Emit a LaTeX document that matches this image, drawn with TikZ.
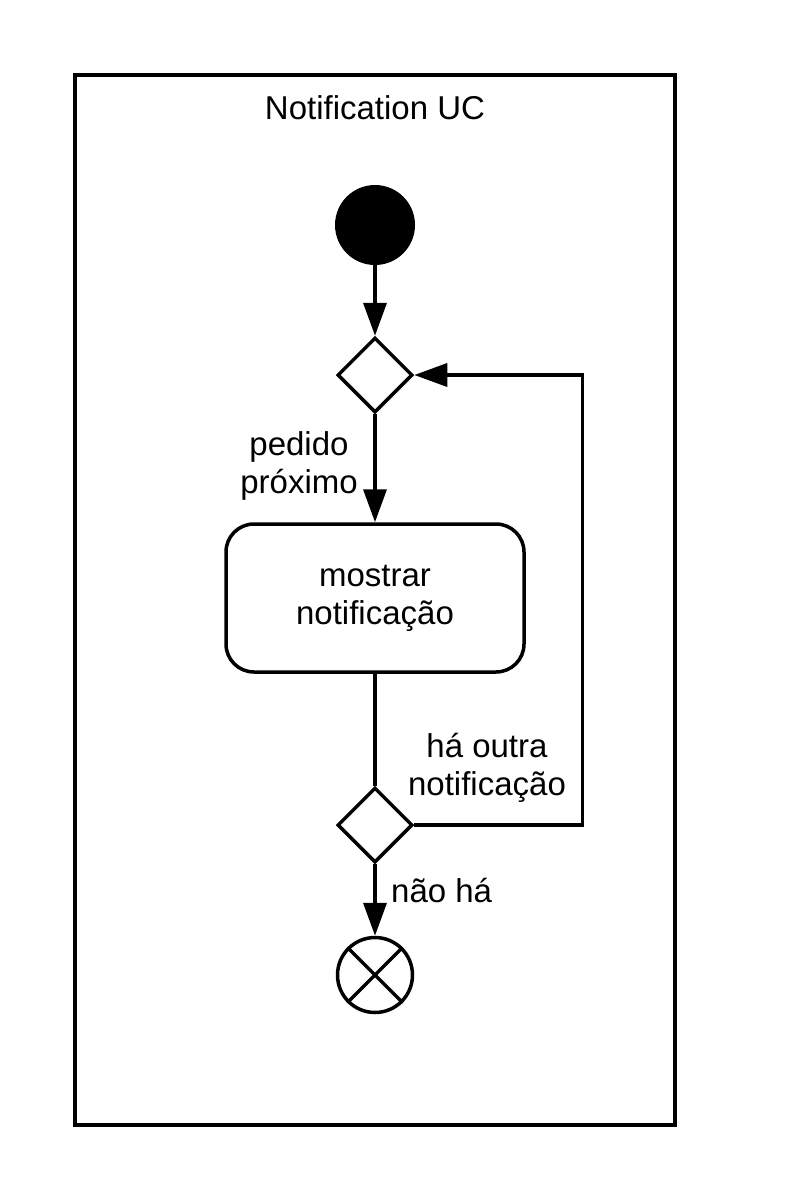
\documentclass[tikz,border=0pt]{standalone}
\usepackage{fontspec}
\setmainfont{Liberation Sans}
\usetikzlibrary{shapes.geometric,arrows.meta}
\begin{document}
\begin{tikzpicture}[x=1pt,y=-1pt,
  every node/.style={font=\fontsize{33}{38}\selectfont},
  ln/.style={line width=3.5pt},
  decision/.style={diamond, draw, line width=3.5pt, minimum width=75pt, minimum height=75pt, inner sep=0pt},
  flow/.style={line width=3.5pt, -{Triangle[length=33pt,width=23pt]}},
  lbl/.style={inner sep=0pt, align=center},
  action/.style={rectangle, draw, line width=3.5pt, rounded corners=28pt, minimum width=298pt, minimum height=148pt, align=center, inner sep=0pt}
]
\useasboundingbox (0,0) rectangle (788,1200);
\draw[ln] (75,75) rectangle (675,1125);
\node[lbl, anchor=base] (title) at (375,119) {Notification UC};
\node[circle, fill=black, minimum size=80pt, inner sep=0pt] (start) at (375,225) {};
\node[decision] (d1) at (375,375) {};
\node[action] (act) at (375,598) {mostrar\\notificação};
\node[decision] (d2) at (375,825) {};
\node[circle, draw, line width=3.5pt, minimum size=75pt, inner sep=0pt] (fin) at (375,975) {};
\draw[ln] (fin.45) -- (fin.225) (fin.135) -- (fin.315);
\draw[flow] (start) -- (d1);
\draw[flow] (d1) -- (act);
\draw[ln] (act) -- (d2);
\draw[flow] (d2.east) -- ++(168,0) |- (d1.east);
\draw[flow] (d2) -- (fin);
\node[lbl, anchor=base] (l1) at (299,493) {pedido\\próximo};
\node[lbl, anchor=base] (l2) at (487,795) {há outra\\notificação};
\node[lbl, anchor=base west] (l3) at (391,902) {não há};
\end{tikzpicture}
\end{document}
